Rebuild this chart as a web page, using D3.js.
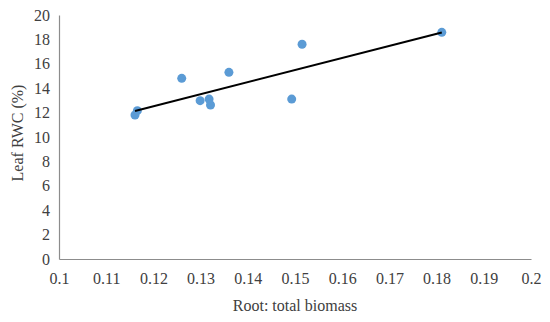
<!DOCTYPE html>
<html>
<head>
<meta charset="utf-8">
<script src="https://cdn.jsdelivr.net/npm/d3@7"></script>
<style>
  body { margin: 0; background: #fff; }
</style>
</head>
<body>
<svg id="chart" width="550" height="322"></svg>
<script>
// scatter data
const rootRatio = [0.1161, 0.1166, 0.1260, 0.1299, 0.1318, 0.1321, 0.1360, 0.1493, 0.1515, 0.1811];
const leafRWC   = [11.80, 12.16, 14.81, 12.98, 13.11, 12.62, 15.30, 13.11, 17.60, 18.58];
const xTicks = [0.1, 0.11, 0.12, 0.13, 0.14, 0.15, 0.16, 0.17, 0.18, 0.19, 0.2];
const yTicks = [0, 2, 4, 6, 8, 10, 12, 14, 16, 18, 20];

const FONT = "'Liberation Serif', 'Times New Roman', serif";

const svg = d3.select("#chart");
const margin = {top: 15, right: 19, bottom: 63, left: 59};
const width = +svg.attr("width");
const height = +svg.attr("height");
const innerWidth = width - margin.left - margin.right;
const innerHeight = height - margin.top - margin.bottom;

const data = rootRatio.map((x, i) => ({x: x, y: leafRWC[i]}));

const xScale = d3.scaleLinear().domain([0.1, 0.2]).range([0, innerWidth]);
const yScale = d3.scaleLinear().domain([0, 20]).range([innerHeight, 0]);

const g = svg.append("g")
    .attr("transform", `translate(${margin.left},${margin.top})`);

// axes, no tick marks, just the domain line and labels
const xAxisG = g.append("g")
    .attr("transform", `translate(0,${innerHeight})`)
    .call(d3.axisBottom(xScale).tickValues(xTicks).tickSize(0).tickPadding(14)
        .tickFormat(d => String(+d.toFixed(2))));
const yAxisG = g.append("g")
    .call(d3.axisLeft(yScale).tickValues(yTicks).tickSize(0).tickPadding(9));

[xAxisG, yAxisG].forEach(a => {
  a.attr("font-family", null).attr("font-size", null);
  a.select(".domain").attr("stroke", "#8c8c8c").attr("stroke-width", 1.2);
  a.selectAll("text")
      .style("font-family", FONT)
      .style("font-size", "16px")
      .attr("fill", "#404040");
});

// linear trendline (least squares)
const mx = d3.mean(data, d => d.x), my = d3.mean(data, d => d.y);
const slope = d3.sum(data, d => (d.x - mx) * (d.y - my)) / d3.sum(data, d => (d.x - mx) ** 2);
const x0 = d3.min(rootRatio), x1 = d3.max(rootRatio);
const trend = [[x0, my + slope * (x0 - mx)], [x1, my + slope * (x1 - mx)]];

g.selectAll("circle")
    .data(data)
    .join("circle")
    .attr("cx", d => xScale(d.x))
    .attr("cy", d => yScale(d.y))
    .attr("r", 4.5)
    .attr("fill", "#5b9bd5");

g.append("path")
    .attr("d", d3.line().x(d => xScale(d[0])).y(d => yScale(d[1]))(trend))
    .attr("stroke", "#000")
    .attr("stroke-width", 2)
    .attr("fill", "none");

g.append("text")
    .attr("x", innerWidth / 2)
    .attr("y", innerHeight + 52)
    .attr("text-anchor", "middle")
    .attr("fill", "#404040")
    .style("font-family", FONT)
    .style("font-size", "16px")
    .text("Root: total biomass");

g.append("text")
    .attr("transform", `translate(-36,${innerHeight / 2 - 4}) rotate(-90)`)
    .attr("text-anchor", "middle")
    .attr("fill", "#404040")
    .style("font-family", FONT)
    .style("font-size", "16px")
    .text("Leaf RWC (%)");
</script>
</body>
</html>
